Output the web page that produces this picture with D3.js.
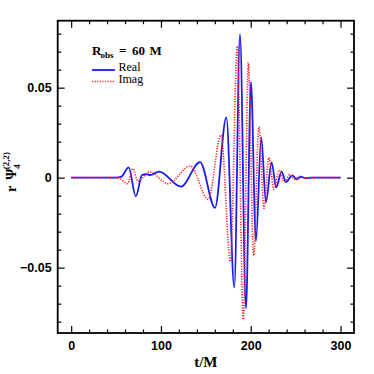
<!DOCTYPE html>
<html>
<head>
<meta charset="utf-8">
<script src="https://cdn.jsdelivr.net/npm/d3@7"></script>
<style>
  html, body { margin: 0; padding: 0; background: #fff; }
  svg { display: block; }
</style>
</head>
<body>
<div id="chart"></div>
<script>
// Waveform samples (extrema of each curve).
const realT = [0, 50, 56, 64, 72, 79, 84, 88, 98, 122.4, 143.5, 160.2, 172.8, 181.7, 188, 194.7, 200.2, 205.8, 211.7, 216.9, 223.2, 228.4, 234.3, 239.2, 246.2, 251, 256, 261, 268, 300];
const realV = [0, 0, 0.0006, 0.0057, -0.0104, 0.0015, 0.0019, 0.0014, 0.0034, -0.005, 0.0086, -0.0168, 0.0335, -0.061, 0.0797, -0.0727, 0.0532, -0.0352, 0.0224, -0.0137, 0.0085, -0.0054, 0.0033, -0.0024, 0.0013, -0.0009, 0.0005, -0.0003, 0, 0];

const imagT = [0, 52, 63, 68.5, 74.5, 87.3, 108, 132.5, 152.6, 166.9, 177.4, 185, 191.7, 197.3, 203.2, 209.1, 214.7, 220.2, 225.8, 231.7, 237.3, 243.6, 248.8, 254.4, 260, 266, 300];
const imagV = [0, 0, -0.0033, 0.005, -0.002, 0.0032, -0.0034, 0.0065, -0.012, 0.0237, -0.0466, 0.073, -0.0788, 0.0637, -0.0432, 0.0281, -0.017, 0.0111, -0.0065, 0.0041, -0.0024, 0.0017, -0.0009, 0.0006, -0.0003, 0, 0];

// Tick values.
const xMajor = [0, 100, 200, 300];
const xMinor = [20, 40, 60, 80, 120, 140, 160, 180, 220, 240, 260, 280];
const yMajor = [-0.05, 0, 0.05];
const yMinor = [-0.08, -0.07, -0.06, -0.04, -0.03, -0.02, -0.01, 0.01, 0.02, 0.03, 0.04, 0.06, 0.07, 0.08];

// Set the dimensions of the graph.
const W = 374, H = 374;
const margin = {top: 20.7, right: 20, bottom: 41, left: 57.7};

const svg = d3.select('#chart')
    .append('svg')
        .attr('width', W)
        .attr('height', H);

const x = d3.scaleLinear().domain([-15, 315]).range([margin.left, W - margin.right]);
const y = d3.scaleLinear().domain([-0.0863, 0.0872]).range([H - margin.bottom, margin.top]);

const tickFont = 'Liberation Sans, Arial, sans-serif';
const fmtY = d => d === 0 ? '0' : d3.format('.2f')(d);

function axisGroup(gen, transform) {
    const g = svg.append('g').attr('transform', transform).call(gen);
    g.select('.domain').remove();
    g.selectAll('line').attr('stroke', '#000').attr('stroke-width', 1.2);
    g.selectAll('text')
        .style('font-family', tickFont)
        .style('font-weight', 'bold')
        .style('font-size', '12.5px')
        .attr('fill', '#000');
    return g;
}

const bottomY = H - margin.bottom, topY = margin.top;
const leftX = margin.left, rightX = W - margin.right;

// Ticks on all four sides, pointing inward.
axisGroup(d3.axisBottom(x).tickValues(xMajor).tickSize(-7).tickPadding(8), `translate(0,${bottomY})`);
axisGroup(d3.axisBottom(x).tickValues(xMinor).tickSize(-3.5).tickFormat(''), `translate(0,${bottomY})`);
axisGroup(d3.axisTop(x).tickValues(xMajor).tickSize(-7).tickFormat(''), `translate(0,${topY})`);
axisGroup(d3.axisTop(x).tickValues(xMinor).tickSize(-3.5).tickFormat(''), `translate(0,${topY})`);
axisGroup(d3.axisLeft(y).tickValues(yMajor).tickSize(-7).tickPadding(6).tickFormat(fmtY), `translate(${leftX},0)`);
axisGroup(d3.axisLeft(y).tickValues(yMinor).tickSize(-3.5).tickFormat(''), `translate(${leftX},0)`);
axisGroup(d3.axisRight(y).tickValues(yMajor).tickSize(-7).tickFormat(''), `translate(${rightX},0)`);
axisGroup(d3.axisRight(y).tickValues(yMinor).tickSize(-3.5).tickFormat(''), `translate(${rightX},0)`);

// Frame.
svg.append('rect')
    .attr('x', leftX)
    .attr('y', topY)
    .attr('width', rightX - leftX)
    .attr('height', bottomY - topY)
    .attr('fill', 'none')
    .attr('stroke', '#000')
    .attr('stroke-width', 1.8);

// Curves.
const line = d3.line()
    .x(d => x(d[0]))
    .y(d => y(d[1]))
    .curve(d3.curveMonotoneX);

const realData = realT.map((t, i) => [t, realV[i]]);
const imagData = imagT.map((t, i) => [t, imagV[i]]);

svg.append('path')
    .attr('d', line(realData))
    .attr('fill', 'none')
    .attr('stroke', '#1a1aff')
    .attr('stroke-width', 1.8);

svg.append('path')
    .attr('d', line(imagData))
    .attr('fill', 'none')
    .attr('stroke', '#ff2020')
    .attr('stroke-width', 1.6)
    .attr('stroke-dasharray', '1.2,1.4');

// Legend.
const serif = 'Liberation Serif, Times New Roman, serif';
const leg = svg.append('g')
    .style('font-family', serif)
    .style('font-weight', 'bold')
    .attr('fill', '#000');

leg.append('text').attr('x', 92).attr('y', 55).style('font-size', '13px').text('R');
leg.append('text').attr('x', 100.5).attr('y', 58).style('font-size', '9px').text('obs');
leg.append('text').attr('x', 119).attr('y', 55).style('font-size', '13px').text('=');
leg.append('text').attr('x', 132).attr('y', 55).style('font-size', '13px').text('60');
leg.append('text').attr('x', 149.5).attr('y', 55).style('font-size', '13px').text('M');

svg.append('line')
    .attr('x1', 92).attr('x2', 115).attr('y1', 70).attr('y2', 70)
    .attr('stroke', '#1a1aff').attr('stroke-width', 1.8);
leg.append('text').attr('x', 118.5).attr('y', 71).style('font-size', '12px').style('font-weight', 'normal').text('Real');

svg.append('line')
    .attr('x1', 92).attr('x2', 115).attr('y1', 81.5).attr('y2', 81.5)
    .attr('stroke', '#ff2020').attr('stroke-width', 1.6).attr('stroke-dasharray', '1.2,1.4');
leg.append('text').attr('x', 118.5).attr('y', 83).style('font-size', '12px').style('font-weight', 'normal').text('Imag');

// Axis titles.
svg.append('text')
    .attr('x', (leftX + rightX) / 2)
    .attr('y', 367)
    .attr('text-anchor', 'middle')
    .style('font-family', serif)
    .style('font-weight', 'bold')
    .style('font-size', '15px')
    .text('t/M');

const yl = svg.append('text')
    .attr('transform', 'translate(16,192) rotate(-90)')
    .style('font-family', serif)
    .style('font-weight', 'bold')
    .style('font-size', '14px');
yl.append('tspan').text('r');
yl.append('tspan').attr('dx', 6).text('\u03A8');
yl.append('tspan').attr('dy', 4).style('font-size', '9px').text('4');
yl.append('tspan').attr('dx', -5).attr('dy', -11).style('font-size', '9px').text('(2,2)');
</script>
</body>
</html>
